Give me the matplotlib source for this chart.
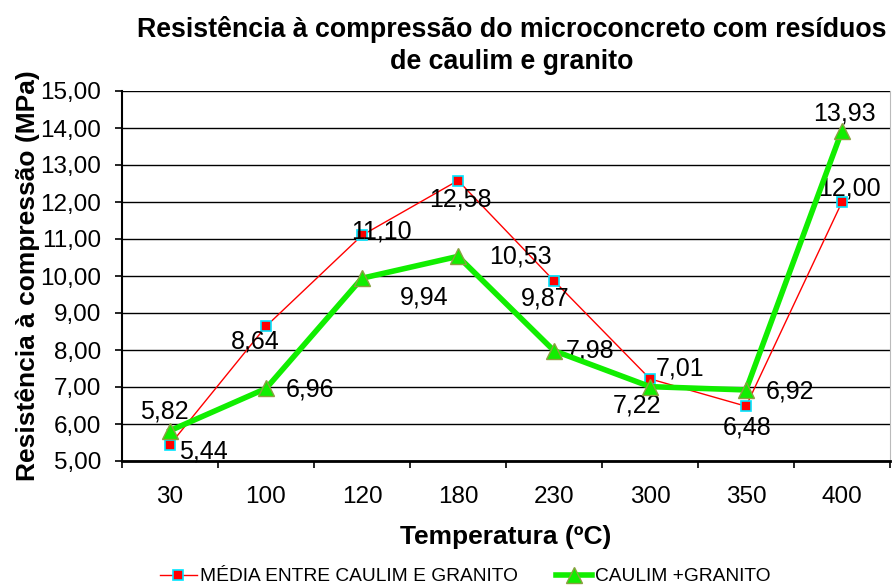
import numpy as np
import matplotlib

matplotlib.use("Agg")
import matplotlib.pyplot as plt

plt.rcParams["font.family"] = ["Liberation Sans", "DejaVu Sans"]

temps = ["30", "100", "120", "180", "230", "300", "350", "400"]
media = [5.44, 8.64, 11.10, 12.58, 9.87, 7.22, 6.48, 12.00]
caulim_granito = [5.82, 6.96, 9.94, 10.53, 7.98, 7.01, 6.92, 13.93]

# label offsets in points (layout only)
media_off = [(24, -5), (-8, -11), (14, 3), (2, -14), (-6, -13), (-9, -19), (1, -15), (5, 10)]
cg_off = [(-4, 14), (32, -1), (45, -14), (45, 0), (26, 0), (22, 13), (32, -1), (2, 12)]

fig = plt.figure(figsize=(8.95, 5.88), dpi=100)
ax = fig.add_axes([122 / 895, 1 - 461 / 588, (890 - 122) / 895, (461 - 91) / 588])

x = np.arange(len(temps))
ax.plot(x, media, color="red", lw=1, marker="s", ms=7, mfc="red", mec="#00e5ff",
        mew=1.2, label="MÉDIA ENTRE CAULIM E GRANITO", zorder=3)
ax.plot(x, caulim_granito, color="#11ee00", lw=4, marker="^", ms=11,
        mfc="#11ee00", mec="#8aa040", mew=1, label="CAULIM +GRANITO", zorder=4)

for xi, v, off in zip(x, media, media_off):
    ax.annotate(f"{v:.2f}".replace(".", ","), (xi, v), xytext=off,
                textcoords="offset points", ha="center", va="center", fontsize=18)
for xi, v, off in zip(x, caulim_granito, cg_off):
    ax.annotate(f"{v:.2f}".replace(".", ","), (xi, v), xytext=off,
                textcoords="offset points", ha="center", va="center", fontsize=18)

ax.set_xlim(-0.5, len(temps) - 0.5)
ax.set_ylim(5, 15)
yt = np.arange(5, 15.01, 1)
ax.set_yticks(yt)
ax.set_yticklabels([f"{v:.2f}".replace(".", ",") for v in yt], fontsize=17.5)
ax.set_xticks(x)
ax.set_xticklabels(temps, fontsize=17.5)
ax.set_xticks(np.arange(-0.5, len(temps), 1), minor=True)
ax.tick_params(axis="x", which="major", length=0, pad=18)
ax.tick_params(axis="x", which="minor", length=5, width=1.2, direction="out")
ax.tick_params(axis="y", length=5, width=1.2, direction="out", pad=10)
ax.grid(axis="y", color="black", lw=1)
ax.set_axisbelow(True)
ax.spines["top"].set_visible(False)
ax.spines["right"].set_color("#bbbbbb")
ax.spines["right"].set_linewidth(0.8)
ax.spines["left"].set_linewidth(1.5)
ax.spines["bottom"].set_linewidth(2)

ax.set_xlabel("Temperatura (ºC)", fontsize=19, fontweight="bold", labelpad=12)
ax.set_ylabel("Resistência à compressão (MPa)", fontsize=19, fontweight="bold", labelpad=0)
fig.text(0.572, 0.972, "Resistência à compressão do microconcreto com resíduos\nde caulim e granito",
         ha="center", va="top", fontsize=19.3, fontweight="bold", linespacing=1.3)

fig.legend(loc="lower center", bbox_to_anchor=(0.52, -0.025), ncol=2, frameon=False,
           fontsize=13.8, handlelength=1.9, columnspacing=2.0, handletextpad=0.15)

fig.savefig("out.png", dpi=100)
